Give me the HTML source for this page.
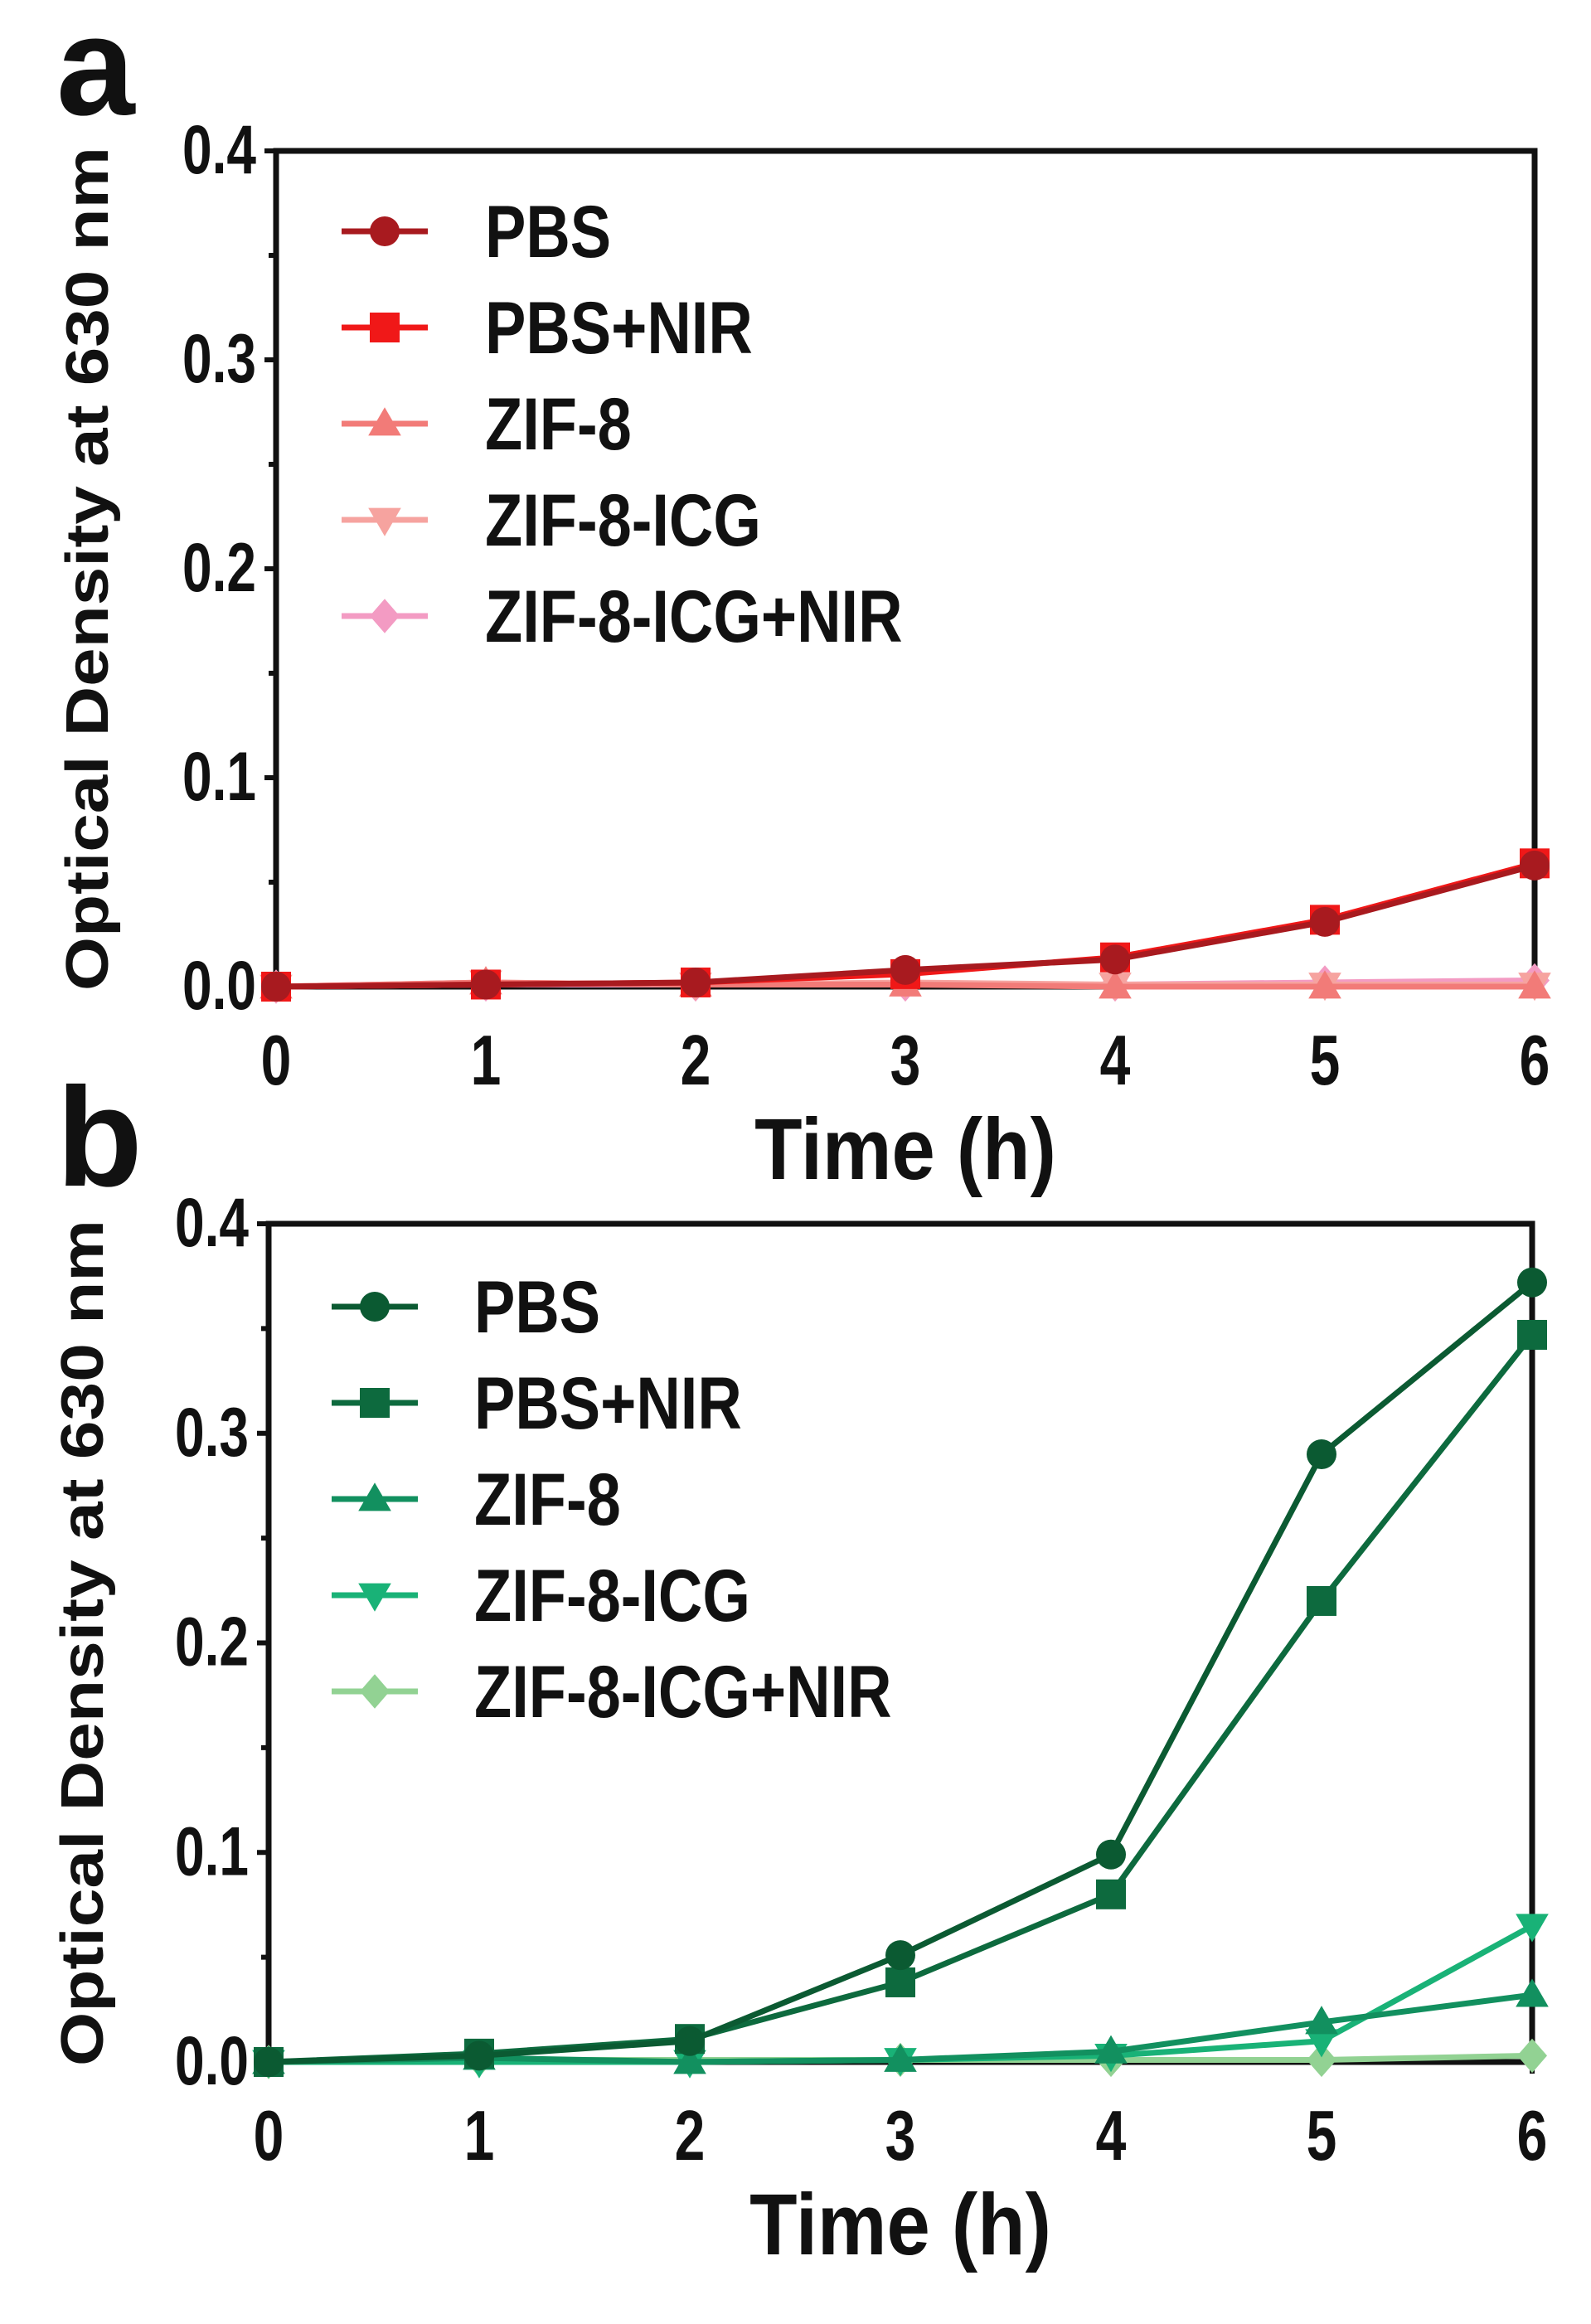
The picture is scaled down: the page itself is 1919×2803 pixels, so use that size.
<!DOCTYPE html>
<html><head><meta charset="utf-8"><style>
html,body{margin:0;padding:0;background:#fff}
svg{display:block}
text{font-family:"Liberation Sans",sans-serif;font-weight:bold;fill:#111}
</style></head><body>
<svg id="fig" width="1919" height="2803" viewBox="0 0 1919 2803" xmlns="http://www.w3.org/2000/svg">
<rect width="1919" height="2803" fill="#fff"/>
</svg>
<script>
const hours = [0,1,2,3,4,5,6];
const seriesNames = ["PBS","PBS+NIR","ZIF-8","ZIF-8-ICG","ZIF-8-ICG+NIR"];
const yTicks = [0.0,0.1,0.2,0.3,0.4];
const yTickLabels = ["0.0","0.1","0.2","0.3","0.4"];
const xTickLabels = ["0","1","2","3","4","5","6"];
const aPBS = [0,0.001,0.002,0.008,0.013,0.031,0.058];
const aPBSNIR = [0,0.001,0.002,0.006,0.014,0.032,0.059];
const aZIF = [0,0.002,0.001,0.001,0,0,0];
const aZIFICG = [0,0.002,0.001,0.002,0.001,0.001,0.001];
const aZIFICGNIR = [0,0.001,0.001,0.001,0.001,0.002,0.003];
const bPBS = [0,0.003,0.010,0.051,0.099,0.29,0.372];
const bPBSNIR = [0,0.004,0.011,0.038,0.080,0.220,0.347];
const bZIF = [0,0.002,0,0.001,0.005,0.019,0.032];
const bZIFICG = [0,0,0,0.001,0.003,0.010,0.065];
const bZIFICGNIR = [0,0.001,0.001,0.001,0.001,0.001,0.003];

const NS="http://www.w3.org/2000/svg";
const svg=document.getElementById('fig');
function mk(tag,attrs,parent){const e=document.createElementNS(NS,tag);for(const k in attrs)e.setAttribute(k,attrs[k]);(parent||svg).appendChild(e);return e;}
function stext(parent,x,y,size,sy,anchor,str){
  const t=mk('text',{x:0,y:0,'text-anchor':anchor,'font-size':size,transform:`translate(${x},${y}) scale(1,${sy})`},parent);
  t.textContent=str;return t;
}
const markers=["circle","square","tri","tridown","diamond"];
function marker(g,type,cx,cy,color,s){
  let e;
  if(type==="circle")e=mk('circle',{cx,cy,r:s,fill:color},g);
  else if(type==="square")e=mk('rect',{x:cx-s,y:cy-s,width:2*s,height:2*s,fill:color},g);
  else if(type==="tri")e=mk('polygon',{points:`${cx},${cy-s*1.1} ${cx-s*1.1},${cy+s*0.8} ${cx+s*1.1},${cy+s*0.8}`,fill:color},g);
  else if(type==="tridown")e=mk('polygon',{points:`${cx},${cy+s*1.1} ${cx-s*1.1},${cy-s*0.8} ${cx+s*1.1},${cy-s*0.8}`,fill:color},g);
  else e=mk('polygon',{points:`${cx},${cy-s*1.15} ${cx+s*1.0},${cy} ${cx},${cy+s*1.15} ${cx-s*1.0},${cy}`,fill:color},g);
  return e;
}
function panel(cfg){
  const g=mk('g',{});
  
  
  const X=v=>cfg.x0+(cfg.x6-cfg.x0)*v/6;
  const Y=v=>cfg.y0+(cfg.y4-cfg.y0)*v/0.4;
  const fr=mk('rect',{x:cfg.x0,y:cfg.y4,width:cfg.x6-cfg.x0,height:cfg.y0-cfg.y4,fill:'none',stroke:'#111','stroke-width':7},g);
  
  
  for(let i=0;i<=8;i++){const v=i*0.05;const y=Y(v);const len=i%2===0?14:9;
    const t=mk('line',{x1:cfg.x0-len,x2:cfg.x0,y1:y,y2:y,stroke:'#111','stroke-width':6},g);
    
    }
  yTicks.forEach((v,i)=>{const t=stext(g,cfg.x0-24,Y(v)+27,64,1.3,'end',yTickLabels[i]);
    
    });
  hours.forEach((h,i)=>{const x=X(h);
    const t=mk('line',{x1:x,x2:x,y1:cfg.y0,y2:cfg.y0+14,stroke:'#111','stroke-width':6},g);
    
    
    const l=stext(g,x,cfg.y0+118,66,1.3,'middle',xTickLabels[i]);
    
    });
  const xt=stext(g,(cfg.x0+cfg.x6)/2,cfg.y0+232,94,1.12,'middle',"Time (h)");
  
  
  const yc=(cfg.y0+cfg.y4)/2;
  const yt=mk('text',{x:0,y:0,'text-anchor':'middle','font-size':72,transform:`translate(${cfg.ytx},${yc}) rotate(-90)`,textLength:cfg.y0-cfg.y4+10,lengthAdjust:'spacingAndGlyphs'},g);yt.textContent="Optical Density at 630 nm";
  
  
  const pl=mk('text',{x:cfg.lx,y:cfg.ly,'font-size':170,'fill':'#111'},g);pl.textContent=cfg.letter;
  
  
  for(let s=cfg.data.length-1;s>=0;s--){
    const sg=mk('g',{},g);
    
    
    const pts=cfg.data[s].map((v,i)=>X(hours[i])+','+Y(v)).join(' ');
    const pline=mk('polyline',{points:pts,fill:'none',stroke:cfg.colors[s],'stroke-width':7,'stroke-linejoin':'round'},sg);
    
    
    cfg.data[s].forEach((v,i)=>{const m=marker(sg,markers[s],X(hours[i]),Y(v),cfg.colors[s],18);
      
      });
  }
  const lg=mk('g',{},g);
  
  
  seriesNames.forEach((n,i)=>{const y=cfg.legY+i*cfg.legDy;
    const e=mk('g',{},lg);
    
    
    mk('line',{x1:cfg.legX,x2:cfg.legX+104,y1:y,y2:y,stroke:cfg.colors[i],'stroke-width':7},e);
    marker(e,markers[i],cfg.legX+52,y,cfg.colors[i],18);
    stext(e,cfg.legTX,y+31,74,1.2,'start',n);});
}
panel({name:'panel-a',letter:'a',x0:333,x6:1851,y0:1190,y4:182,ytx:130,lx:68,ly:138,
  legX:412,legTX:585,legY:279,legDy:116,
  colors:['#a81a1f','#f01818','#f27b78','#f6a39f','#f39bc3'],
  data:[aPBS,aPBSNIR,aZIF,aZIFICG,aZIFICGNIR]});
panel({name:'panel-b',letter:'b',x0:324,x6:1848,y0:2487,y4:1476,ytx:124,lx:68,ly:1430,
  legX:400,legTX:572,legY:1576,legDy:116,
  colors:['#0b5a32','#0d6a3e','#12905f','#19b277','#92d293'],
  data:[bPBS,bPBSNIR,bZIF,bZIFICG,bZIFICGNIR]});
</script>
</body></html>
